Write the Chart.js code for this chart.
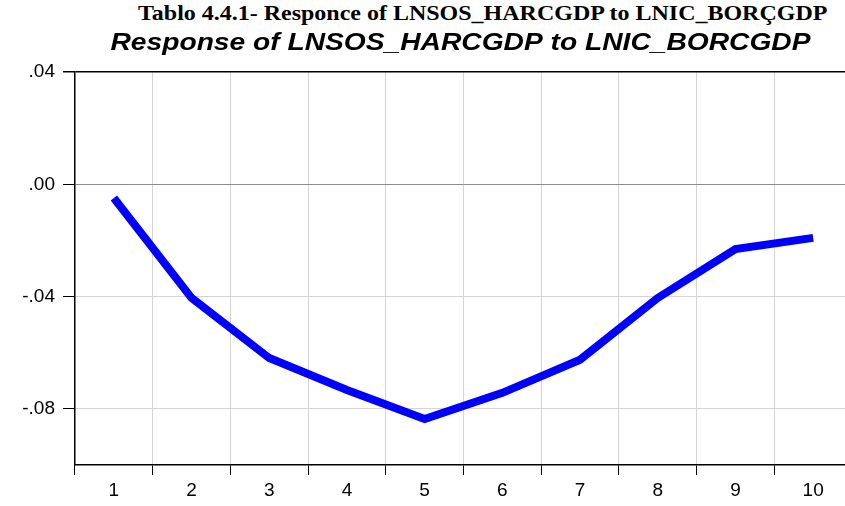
<!DOCTYPE html>
<html>
<head>
<meta charset="utf-8">
<script src="https://cdn.jsdelivr.net/npm/chart.js@4/dist/chart.umd.min.js"></script>
<style>
  html, body { margin: 0; padding: 0; background: #fff; overflow: hidden; }
  body { width: 845px; height: 506px; position: relative; }
  #caption {
    position: absolute; left: 138px; top: 0px; line-height: 26px;
    font-family: "Liberation Serif", "Times New Roman", serif; font-weight: bold; font-size: 22px;
    color: #000; white-space: nowrap; transform-origin: 0 0;
  }
  #wrap { position: absolute; left: 0; top: 0; width: 855px; height: 506px; }
</style>
</head>
<body>
<div id="caption">Tablo 4.4.1- Responce of LNSOS_HARCGDP to LNIC_BORÇGDP</div>
<div id="wrap"><canvas id="c" width="855" height="506"></canvas></div>
<script>
// Impulse response periods
const periods = ['1', '2', '3', '4', '5', '6', '7', '8', '9', '10'];
// Response of LNSOS_HARCGDP to a shock in LNIC_BORCGDP
const response = [-0.0049, -0.0405, -0.0619, -0.0733, -0.0836, -0.0743, -0.0625, -0.0405, -0.0231, -0.0191];
// Labelled y ticks
const yTickValues = [0.04, 0.00, -0.04, -0.08];
const yTickLabels = ['.04', '.00', '-.04', '-.08'];
const chartTitle = 'Response of LNSOS_HARCGDP to LNIC_BORCGDP';

// Widen the caption to its set span
const cap = document.getElementById('caption');
cap.style.transform = 'scaleX(' + (689 / cap.offsetWidth) + ')';

const titlePlugin = {
  id: 'plotTitle',
  afterDraw(chart) {
    const { ctx } = chart;
    ctx.save();
    ctx.font = 'italic bold 23px "Liberation Sans", Arial, sans-serif';
    ctx.fillStyle = '#000';
    ctx.textAlign = 'center';
    ctx.textBaseline = 'alphabetic';
    const w = ctx.measureText(chartTitle).width;
    const sx = 700 / w;
    ctx.translate(460.5, 49.5);
    ctx.scale(sx, 1);
    ctx.fillText(chartTitle, 0, 0);
    ctx.restore();
  }
};

new Chart(document.getElementById('c'), {
  type: 'line',
  data: {
    labels: periods,
    datasets: [{
      data: response,
      borderColor: '#0000ff',
      borderWidth: 8,
      borderCapStyle: 'butt',
      borderJoinStyle: 'miter',
      pointRadius: 0,
      tension: 0,
      fill: false
    }]
  },
  options: {
    responsive: false,
    animation: false,
    devicePixelRatio: 1,
    layout: { padding: { top: 72, right: 3, left: 0, bottom: 0 } },
    plugins: { legend: { display: false }, tooltip: { enabled: false } },
    scales: {
      x: {
        type: 'category',
        offset: true,
        grid: {
          offset: true,
          color: '#d4d4d4',
          lineWidth: 1,
          tickColor: '#000',
          tickLength: 10,
          drawTicks: true
        },
        border: { color: '#000', width: 1.5 },
        ticks: {
          color: '#000',
          font: { family: '"Liberation Sans", Arial, sans-serif', size: 19 },
          padding: 4,
          maxRotation: 0,
          autoSkip: false
        },
        afterFit(scale) { scale.height = 41; }
      },
      y: {
        min: -0.10,
        max: 0.04,
        afterBuildTicks(scale) {
          scale.ticks = yTickValues.map(v => ({ value: v }));
        },
        grid: {
          color: ctx => {
            const v = ctx.tick ? ctx.tick.value : null;
            if (v === 0.04) return '#000';
            if (v === 0) return '#8c8c8c';
            return '#d4d4d4';
          },
          lineWidth: ctx => (ctx.tick && ctx.tick.value === 0.04 ? 1.5 : 1),
          tickColor: '#000',
          tickLength: 12,
          drawTicks: true
        },
        border: { color: '#000', width: 1.5 },
        ticks: {
          color: '#000',
          font: { family: '"Liberation Sans", Arial, sans-serif', size: 19 },
          padding: 8,
          callback: (v) => {
            const i = yTickValues.findIndex(t => Math.abs(t - v) < 1e-9);
            return i >= 0 ? yTickLabels[i] : '';
          }
        },
        afterFit(scale) { scale.width = 75; }
      }
    }
  },
  plugins: [titlePlugin]
});
</script>
</body>
</html>
